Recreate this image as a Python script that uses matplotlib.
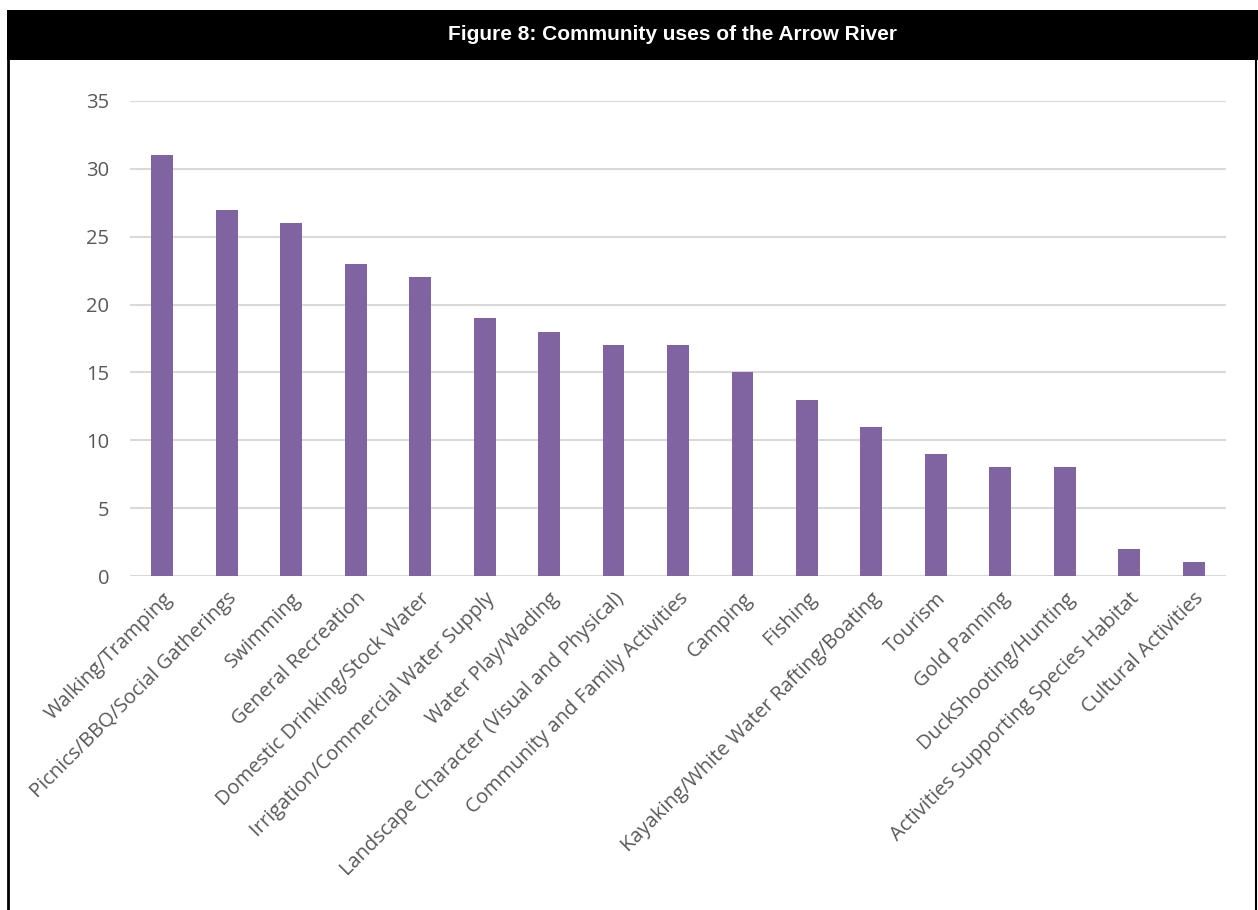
import matplotlib.pyplot as plt
from matplotlib.patches import Rectangle
from matplotlib.lines import Line2D

categories = [
    "Walking/Tramping",
    "Picnics/BBQ/Social Gatherings",
    "Swimming",
    "General Recreation",
    "Domestic Drinking/Stock Water",
    "Irrigation/Commercial Water Supply",
    "Water Play/Wading",
    "Landscape Character (Visual and Physical)",
    "Community and Family Activities",
    "Camping",
    "Fishing",
    "Kayaking/White Water Rafting/Boating",
    "Tourism",
    "Gold Panning",
    "DuckShooting/Hunting",
    "Activities Supporting Species Habitat",
    "Cultural Activities",
]
counts = [31, 27, 26, 23, 22, 19, 18, 17, 17, 15, 13, 11, 9, 8, 8, 2, 1]
yticks = [0, 5, 10, 15, 20, 25, 30, 35]

W, H = 1258, 910
fig = plt.figure(figsize=(W / 100, H / 100), dpi=100)
fig.patch.set_facecolor("white")

# black title banner and frame
fig.add_artist(Rectangle((7 / W, 1 - 60 / H), 1 - 7 / W, 50 / H,
                         transform=fig.transFigure, facecolor="black",
                         edgecolor="none"))
fig.text(673 / W, 1 - 35 / H, "Figure 8: Community uses of the Arrow River",
         color="white", fontsize=15, fontweight="bold",
         family="Liberation Sans", ha="center", va="center")
fig.add_artist(Line2D([8 / W, 8 / W], [0, 1 - 60 / H], transform=fig.transFigure,
                      color="black", lw=2))
fig.add_artist(Line2D([1256 / W, 1256 / W], [0, 1 - 60 / H], transform=fig.transFigure,
                      color="black", lw=1.5))

ax = fig.add_axes([130 / W, 1 - 576 / H, (1226 - 130) / W, (576 - 101) / H])
x = range(len(categories))
ax.bar(x, counts, width=0.34, color="#8064A2", zorder=3)
ax.set_xlim(-0.5, len(categories) - 0.5)
ax.set_ylim(0, 35)
ax.set_yticks(yticks)
ax.grid(axis="y", color="#D9D9D9", lw=1.5, zorder=0)
for s in ax.spines.values():
    s.set_visible(False)
ax.tick_params(length=0, colors="#595959", labelsize=14.5)
ax.tick_params(axis="y", pad=15)
ax.set_xticks(list(x))
ax.set_xticklabels(categories, rotation=45, ha="right", rotation_mode="anchor",
                   family="Open Sans", color="#595959", fontsize=14.5)
for lab in ax.get_yticklabels():
    lab.set_family("Open Sans")
ax.tick_params(axis="x", pad=9)

fig.savefig("out.png", dpi=100)
